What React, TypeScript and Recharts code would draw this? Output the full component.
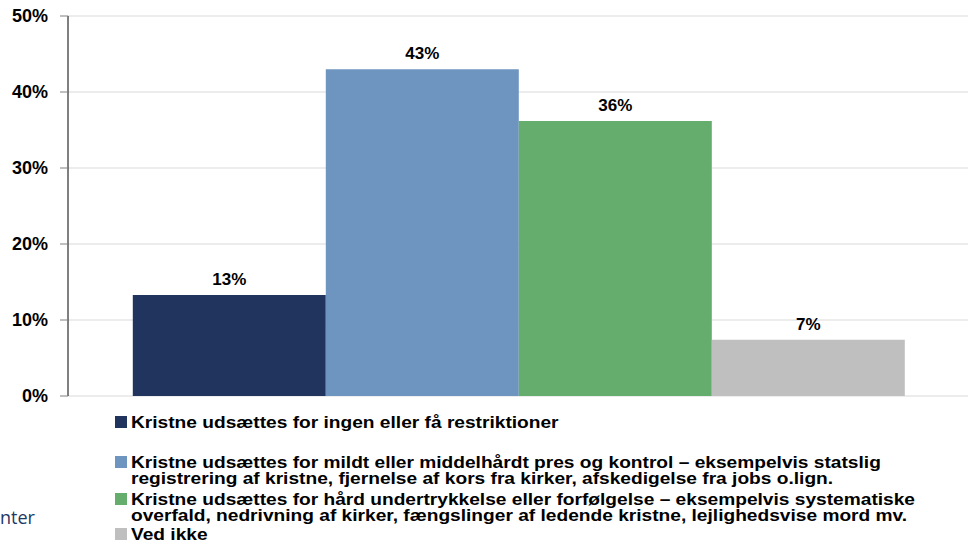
import { BarChart, Bar, XAxis, YAxis, CartesianGrid, LabelList, Legend } from "recharts";

const SERIES_KEYS = ["ingen", "mild", "haard", "vedIkke"];
const SERIES_NAMES = [
  "Kristne udsættes for ingen eller få restriktioner",
  "Kristne udsættes for mildt eller middelhårdt pres og kontrol – eksempelvis statslig\nregistrering af kristne, fjernelse af kors fra kirker, afskedigelse fra jobs o.lign.",
  "Kristne udsættes for hård undertrykkelse eller forfølgelse – eksempelvis systematiske\noverfald, nedrivning af kirker, fængslinger af ledende kristne, lejlighedsvise mord mv.",
  "Ved ikke",
];
const SERIES_VALUES = [13.3, 43, 36.2, 7.4];
const Y_TICKS = [0, 10, 20, 30, 40, 50];

const COLORS: Record<string, string> = {
  ingen: "#20345e",
  mild: "#6e95c0",
  haard: "#65ad6c",
  vedIkke: "#bfbfbf",
};

// vertical position of each legend item (layout only)
const LEGEND_TOPS = [414, 454, 491, 526];

const FONT = "'Liberation Sans', Arial, sans-serif";

const row: Record<string, string | number> = { category: "" };
SERIES_KEYS.forEach((k, i) => {
  row[k] = SERIES_VALUES[i];
});
const data = [row];

function LegendBox() {
  return (
    <div style={{ position: "relative", width: 968, height: 0 }}>
      {SERIES_KEYS.map((k, i) => (
        <div key={k} style={{ position: "absolute", left: 115, top: LEGEND_TOPS[i], display: "flex", alignItems: "flex-start" }}>
          <div style={{ width: 12, height: 12, background: COLORS[k], marginTop: 2, marginRight: 4 }} />
          <div
            style={{
              fontFamily: FONT,
              fontWeight: "bold",
              fontSize: 16.5,
              lineHeight: "16px",
              color: "#000",
              whiteSpace: "pre",
              transform: "scaleX(1.16)",
              transformOrigin: "left top",
            }}
          >
            {SERIES_NAMES[i]}
          </div>
        </div>
      ))}
    </div>
  );
}

export default function App() {
  return (
    <div style={{ position: "absolute", left: 0, top: 0, width: 968, height: 553, background: "#fff" }}>
      <BarChart
        width={968}
        height={553}
        data={data}
        margin={{ top: 16, right: 0, left: 0, bottom: 157 }}
        barCategoryGap="7.2%"
        barGap={0}
      >
        <CartesianGrid vertical={false} stroke="#d9d9d9" />
        <XAxis dataKey="category" height={0} tick={false} tickLine={false} axisLine={{ stroke: "#000" }} />
        <YAxis
          width={68}
          domain={[0, 50]}
          ticks={Y_TICKS}
          interval={0}
          tickFormatter={(v: number) => `${v}%`}
          tickSize={8}
          tickMargin={12}
          tickLine={{ stroke: "#808080" }}
          axisLine={{ stroke: "#000" }}
          tick={{ fontFamily: FONT, fontWeight: "bold", fontSize: 18, fill: "#000" }}
        />
        <Legend verticalAlign="top" align="left" wrapperStyle={{ left: 0, top: 0, width: 968 }} content={() => <LegendBox />} />
        {SERIES_KEYS.map((k) => (
          <Bar key={k} dataKey={k} fill={COLORS[k]} isAnimationActive={false}>
            <LabelList
              dataKey={k}
              position="top"
              offset={10}
              formatter={(v: number) => `${Math.round(v)}%`}
              style={{ fontFamily: FONT, fontWeight: "bold", fontSize: 17, fill: "#000" }}
            />
          </Bar>
        ))}
      </BarChart>
      <div style={{ position: "absolute", left: 0, top: 505, fontFamily: "'Open Sans', sans-serif", fontSize: 18, color: "#1f3864" }}>
        nter
      </div>
    </div>
  );
}
